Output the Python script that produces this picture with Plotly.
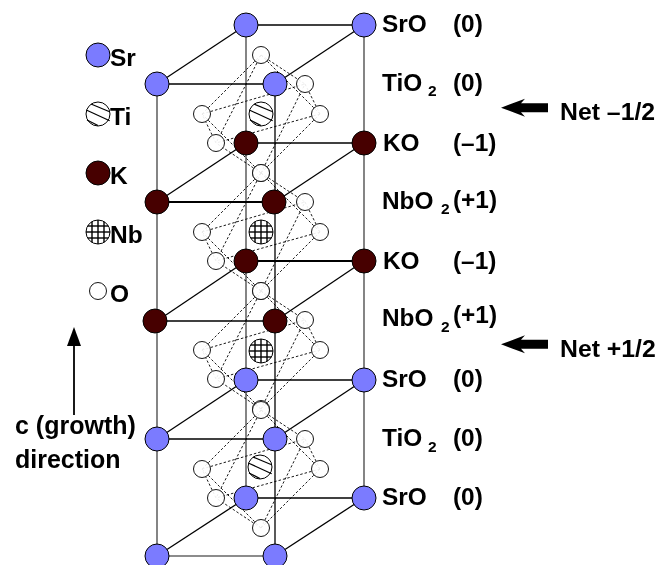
import plotly.graph_objects as go
import math

# --- atom sites (picture coordinates of the drawing) ---
sr_x = [246, 364, 157, 275, 246, 364, 157, 275, 246, 364, 157, 275]
sr_y = [25, 25, 84, 84, 380, 380, 439, 439, 498, 498, 556, 556]
k_x = [246, 364, 157, 274, 246, 364, 155, 275]
k_y = [143, 143, 202, 202, 261, 261, 321, 321]
ti_x = [261, 260]
ti_y = [114, 467]
nb_x = [261, 261]
nb_y = [232, 351]
oct_top_y = [55, 173, 291, 410]
oct_x = {"top": 261, "back": 305, "left": 202, "right": 320, "front": 216, "bottom": 261}
oct_dy = {"top": 0, "back": 29, "left": 59, "right": 59, "front": 88, "bottom": 118}
oct_edges = [("top", "back"), ("top", "left"), ("top", "right"), ("top", "front"),
             ("bottom", "back"), ("bottom", "left"), ("bottom", "right"), ("bottom", "front"),
             ("left", "back"), ("back", "right"), ("right", "front"), ("front", "left")]

# cell frame
col_grey = [[157, 84, 556], [246, 25, 498], [364, 25, 498]]
col_black = [[275, 84, 556]]
back_rows = [25, 143, 261, 380, 498]
front_rows = [84, 202, 321, 439, 556]

# legend
leg_x = 98
leg_sr_y, leg_ti_y, leg_k_y, leg_nb_y, leg_o_y = 55, 114, 173, 232, 291

# labels: text, x, y, size
labels = [
    ("SrO", 382, 23, 24.4), ("(0)", 453, 23, 24.4),
    ("TiO", 382, 82, 24.4), ("2", 428, 90.5, 15.5), ("(0)", 453, 82, 24.4),
    ("KO", 383, 142, 24.4), ("(–1)", 453, 142, 24.4),
    ("NbO", 382, 200, 24.4), ("2", 441, 208.5, 15.5), ("(+1)", 453, 199, 24.4),
    ("KO", 383, 260, 24.4), ("(–1)", 453, 260, 24.4),
    ("NbO", 382, 317, 24.4), ("2", 441, 326.5, 15.5), ("(+1)", 453, 314, 24.4),
    ("SrO", 382, 378, 24.4), ("(0)", 453, 378, 24.4),
    ("TiO", 382, 437, 24.4), ("2", 428, 446.5, 15.5), ("(0)", 453, 437, 24.4),
    ("SrO", 382, 496, 24.4), ("(0)", 453, 496, 24.4),
    ("Net –1/2", 560, 111, 24.8), ("Net +1/2", 560, 348, 24.8),
    ("Sr", 110, 57, 24.5), ("Ti", 110, 116, 24.5), ("K", 110, 175, 24.5),
    ("Nb", 110, 234, 24.5), ("O", 110, 293, 24.5),
    ("c (growth)", 15, 425, 25), ("direction", 15, 459, 25),
]
net_arrow_y = [107.7, 344.3]
ti_hatch = [(-7, -10, 11, -2.5), (-11.7, -4, 11.7, 6.7), (-11, 6, 0, 11.5)]
nb_offsets = [-6, 0, 6]

BLACK = "#000000"
GREY = "#666666"
SR = "#7B7BFF"
K = "#470000"

fig = go.Figure()


def seg(xs, ys, color=BLACK, width=1.3, dash=None):
    fig.add_trace(go.Scatter(x=xs, y=ys, mode="lines", hoverinfo="skip", showlegend=False,
                             line=dict(color=color, width=width, dash=dash)))


# frame
gx, gy = [], []
for x, y0, y1 in col_grey:
    gx += [x, x, None]
    gy += [y0, y1, None]
gx += [157, 275]
gy += [556, 556]
seg(gx, gy, GREY, 1.6)

lx, ly = [], []
for y in back_rows:
    lx += [246, 364, None]
    ly += [y, y, None]
for y in front_rows[:-1]:
    lx += [157, 275, None]
    ly += [y, y, None]
for fy, by in zip(front_rows, back_rows):
    lx += [157, 246, None, 275, 364, None]
    ly += [fy, by, None, fy, by, None]
for x, y0, y1 in col_black:
    lx += [x, x, None]
    ly += [y0, y1, None]
seg(lx, ly, BLACK, 1.3)
# the two heavier rows around the KO planes
seg([157, 275, None, 246, 364], [202, 202, None, 261, 261], BLACK, 2)

# octahedra
dx, dy = [], []
ox, oy = [], []
for top in oct_top_y:
    for a, b in oct_edges:
        dx += [oct_x[a], oct_x[b], None]
        dy += [top + oct_dy[a], top + oct_dy[b], None]
    for name in oct_x:
        ox.append(oct_x[name])
        oy.append(top + oct_dy[name])
ox.append(leg_x)
oy.append(leg_o_y)

seg(dx, dy, BLACK, 0.9, "2.5px,2px")
fig.add_trace(go.Scatter(x=ox, y=oy, mode="markers", hoverinfo="skip", showlegend=False, opacity=0.92,
                         marker=dict(size=17, color="white", line=dict(color=BLACK, width=1))))

# centre atoms
cx = ti_x + nb_x + [leg_x, leg_x]
cy = ti_y + nb_y + [leg_ti_y, leg_nb_y]
fig.add_trace(go.Scatter(x=cx, y=cy, mode="markers", hoverinfo="skip", showlegend=False,
                         marker=dict(size=24, color="white", line=dict(color=BLACK, width=1))))
hx, hy = [], []
for x, y in zip(ti_x + [leg_x], ti_y + [leg_ti_y]):
    for a, b, c, d in ti_hatch:
        hx += [x + a, x + c, None]
        hy += [y + b, y + d, None]
seg(hx, hy, BLACK, 1.2)
nx, ny = [], []
R = 12
for x, y in zip(nb_x + [leg_x], nb_y + [leg_nb_y]):
    for o in nb_offsets:
        h = math.sqrt(R * R - o * o)
        nx += [x + o, x + o, None, x - h, x + h, None]
        ny += [y - h, y + h, None, y + o, y + o, None]
seg(nx, ny, BLACK, 1.4)

# A-site atoms
fig.add_trace(go.Scatter(x=sr_x + [leg_x], y=sr_y + [leg_sr_y], mode="markers", hoverinfo="skip", showlegend=False,
                         marker=dict(size=24, color=SR, line=dict(color=BLACK, width=1))))
fig.add_trace(go.Scatter(x=k_x + [leg_x], y=k_y + [leg_k_y], mode="markers", hoverinfo="skip", showlegend=False,
                         marker=dict(size=24, color=K, line=dict(color=BLACK, width=1))))

# arrows
shapes = []
for y in net_arrow_y:
    shapes.append(dict(type="path", xref="x", yref="y", fillcolor=BLACK, line=dict(width=0),
                       path=f"M501,{y} L525,{y-9} L521,{y-4.5} L548,{y-4.5} L548,{y+4.5} L521,{y+4.5} L525,{y+9} Z"))
shapes.append(dict(type="path", xref="x", yref="y", fillcolor=BLACK, line=dict(width=0),
                   path="M74,327 L81,346 L67,346 Z"))
shapes.append(dict(type="line", xref="x", yref="y", x0=74, x1=74, y0=344, y1=415,
                   line=dict(color=BLACK, width=1.8)))

annotations = [dict(text=t, x=x, y=y, xref="x", yref="y", xanchor="left", yanchor="middle",
                    showarrow=False, borderpad=0, borderwidth=0,
                    font=dict(family="Liberation Sans", size=s, color=BLACK, weight="bold"))
               for t, x, y, s in labels]

fig.update_layout(width=669, height=565, margin=dict(l=0, r=0, t=0, b=0),
                  paper_bgcolor="white", plot_bgcolor="white", showlegend=False,
                  shapes=shapes, annotations=annotations,
                  xaxis=dict(range=[0, 669], visible=False, fixedrange=True),
                  yaxis=dict(range=[565, 0], visible=False, fixedrange=True))
fig.write_html("out.html", config=dict(displayModeBar=False),
               post_script="document.body.style.margin='0';document.body.style.overflow='hidden';")
